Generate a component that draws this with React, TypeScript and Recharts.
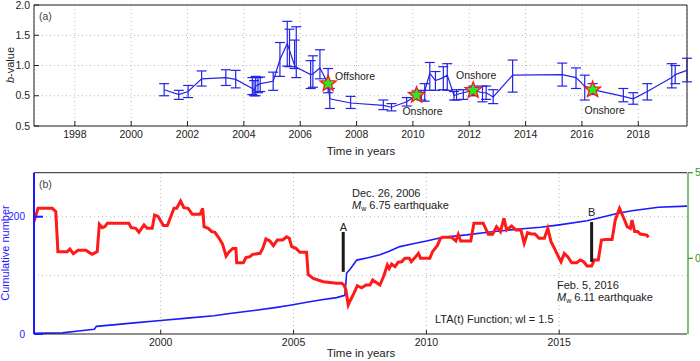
import React from "react";
import {
  ComposedChart,
  Line,
  Scatter,
  XAxis,
  YAxis,
  CartesianGrid,
  ErrorBar,
  ReferenceLine,
} from "recharts";

const FONT = '"Liberation Sans", Arial, Helvetica, sans-serif';
const INK = "#222";
const BLUE = "#2323e6";
const CUM_BLUE = "#1a1aff";
const RED = "#ff1a1a";
const GREEN = "#2e962e";
const GRID = "#b8b8b8";

// ---- panel (a): b-value with error bars ----
const B_YEARS = [
  2001.17, 2001.69, 2002.02, 2002.5, 2003.36, 2003.71, 2004.3, 2004.36, 2004.42, 2004.5,
  2004.58, 2005.04, 2005.28, 2005.54, 2005.62, 2005.8, 2005.86, 2006.37, 2006.45, 2006.7,
  2006.99, 2007.05, 2007.79, 2008.95, 2009.24, 2009.78, 2010.13, 2010.3, 2010.42, 2010.6,
  2010.8, 2011.08, 2011.22, 2011.46, 2011.55, 2011.79, 2012.14, 2012.47, 2012.6, 2012.85,
  2013.54, 2015.3, 2015.79, 2016.1, 2016.38, 2017.47, 2017.82, 2018.32, 2019.19, 2019.31,
  2019.73,
];
const B_VALUES = [
  0.6, 0.52, 0.57, 0.78, 0.8, 0.77, 0.62, 0.58, 0.66, 0.68,
  0.7, 0.74, 1.1, 1.36, 1.25, 1.0, 0.97, 0.85, 0.86, 0.96,
  0.7, 0.45, 0.38, 0.34, 0.31, 0.4, 0.51, 0.52, 0.58, 0.87,
  0.75, 0.8, 0.84, 0.5, 0.52, 0.55, 0.59, 0.55, 0.55, 0.48,
  0.84, 0.85, 0.8, 0.66, 0.6, 0.49, 0.45, 0.57, 0.8, 0.85,
  0.92,
];
const B_LOWER = [
  0.5, 0.44, 0.47, 0.66, 0.67, 0.63, 0.52, 0.5, 0.5, 0.55,
  0.57, 0.59, 0.82, 0.99, 0.98, 0.95, 0.8, 0.62, 0.64, 0.78,
  0.55, 0.29, 0.29, 0.27, 0.25, 0.33, 0.45, 0.43, 0.41, 0.59,
  0.59, 0.6, 0.59, 0.43, 0.43, 0.44, 0.5, 0.4, 0.44, 0.37,
  0.56, 0.66, 0.62, 0.43, 0.52, 0.4, 0.36, 0.43, 0.63, 0.7,
  0.73,
];
const B_UPPER = [
  0.7, 0.59, 0.67, 0.91, 0.93, 0.92, 0.8, 0.75, 0.82, 0.8,
  0.81, 0.89, 1.38, 1.73, 1.6, 1.42, 1.64, 1.08, 1.16, 1.26,
  0.95, 0.62, 0.49, 0.43, 0.37, 0.47, 0.58, 0.59, 0.7, 1.05,
  0.9, 0.98, 1.03, 0.57, 0.6, 0.6, 0.66, 0.66, 0.66, 0.6,
  1.09, 1.04, 0.96, 0.84, 0.7, 0.62, 0.55, 0.7, 1.03, 1.0,
  1.12,
];
const STAR_YEARS = [2006.99, 2010.13, 2012.14, 2016.38];
const STAR_VALUES = [0.7, 0.51, 0.59, 0.6];
const STAR_LABELS = ["Offshore", "Onshore", "Onshore", "Onshore"];
const A_TICKS = [1998, 2000, 2002, 2004, 2006, 2008, 2010, 2012, 2014, 2016, 2018];
const A_YTICKS = [0, 0.5, 1, 1.5, 2];

// ---- panel (b): cumulative number and LTA(t) ----
const CUM_YEARS = [
  1995.23, 1996.3, 1996.9, 1997.5, 1997.58, 1998.3, 1999, 2000, 2001, 2002, 2002.6, 2003.5,
  2004.3, 2004.87, 2005.5, 2006, 2006.62, 2006.93, 2006.97, 2007, 2007.12, 2007.25, 2007.38,
  2007.8, 2008.25, 2008.6, 2009, 2009.5, 2010, 2010.63, 2011.51, 2012.39, 2013.52, 2014.3,
  2015, 2016.05, 2016.6, 2017.22, 2017.74, 2018.73, 2019.81,
];
const CUM_COUNTS = [
  1, 2, 5, 8, 13, 16, 19, 23, 27, 31, 35, 40,
  45, 49, 54, 58, 62, 66, 88, 104, 110, 118, 126,
  130, 135, 141, 149, 154, 158.5, 165, 169, 174, 179, 182,
  186, 193, 199, 206, 210, 216, 218,
];
const LTA_YEARS = [
  1995.23, 1995.38, 1995.92, 1996.05, 1996.13, 1996.48, 1996.58, 1996.71, 1996.89, 1997.18,
  1997.42, 1997.61, 1997.69, 1997.8, 1997.9, 1997.99, 1998.8, 1998.89, 1999.06, 1999.18,
  1999.37, 1999.49, 1999.68, 1999.77, 1999.9, 2000.1, 2000.25, 2000.5, 2000.6, 2000.75,
  2000.87, 2001.03, 2001.19, 2001.48, 2001.58, 2001.63, 2001.79, 2001.92, 2002.04, 2002.2,
  2002.33, 2002.46, 2002.58, 2002.71, 2002.83, 2002.86, 2003.11, 2003.21, 2003.36, 2003.46,
  2003.74, 2003.84, 2003.96, 2004.11, 2004.24, 2004.39, 2004.59, 2004.74, 2004.84, 2004.93,
  2005.09, 2005.24, 2005.49, 2005.55, 2005.74, 2006.12, 2006.62, 2006.81, 2006.9, 2006.97,
  2007.06, 2007.14, 2007.27, 2007.4, 2007.56, 2007.73, 2007.88, 2007.98, 2008.1, 2008.25,
  2008.4, 2008.53, 2008.6, 2008.69, 2008.82, 2008.94, 2009.07, 2009.19, 2009.36, 2009.43,
  2009.57, 2009.7, 2009.78, 2010.13, 2010.23, 2010.41, 2010.53, 2010.61, 2010.95, 2011.11,
  2011.2, 2011.29, 2011.67, 2011.79, 2012.14, 2012.33, 2012.49, 2012.64, 2012.79, 2012.92,
  2013.02, 2013.21, 2013.37, 2013.56, 2013.68, 2013.81, 2013.94, 2014.09, 2014.24, 2014.44,
  2014.57, 2014.69, 2014.82, 2014.94, 2015.07, 2015.19, 2015.32, 2015.47, 2015.66, 2015.79,
  2015.92, 2016.05, 2016.22, 2016.32, 2016.47, 2016.59, 2016.74, 2016.99, 2017.11, 2017.27,
  2017.43, 2017.56, 2017.68, 2017.74, 2017.84, 2017.96, 2018.05, 2018.3, 2018.36,
];
const LTA_VALUES = [
  2.14, 2.92, 2.92, 2.73, 0.39, 0.39, 0.54, 0.27, 0.47, 0.47,
  0.23, 0.39, 1.99, 1.79, 1.85, 2.05, 2.05, 1.79, 1.75, 1.52,
  1.95, 1.75, 1.75, 2.53, 2.45, 1.91, 1.91, 2.92, 2.92, 3.35,
  2.96, 2.92, 2.57, 2.57, 2.92, 1.85, 1.75, 1.56, 1.52, 1.17,
  0.82, 0.13, 0.39, 0.58, 0.58, -0.26, -0.26, 0.04, 0.1, 0.23,
  0.29, 0.58, 1.13, 1.01, 0.74, 1.07, 1.07, 1.26, 1.17, 0.68,
  0.58, 0.35, 0.35, -0.94, -1.17, -1.37, -1.46, -1.46, -1.56, -1.85,
  -2.73, -2.45, -2.05, -1.6, -1.72, -1.56, -1.56, -1.27, -1.4, -1.56,
  -1.02, -0.39, -0.6, -0.33, -0.49, -0.23, -0.2, 0, 0, -0.2,
  0.04, 0.29, 0, 0, 0.39, 0.74, 1.17, 1.23, 1.23, 1.01,
  1.4, 1.01, 1.01, 2.05, 2.05, 1.4, 1.4, 1.85, 1.56, 2.34,
  1.65, 1.89, 1.65, 1.65, 0.88, 1.5, 1.42, 1.42, 1.17, 1.17,
  1.75, 0.97, 0.58, 0.19, -0.2, 0.29, 0.1, -0.26, -0.26, -0.1,
  -0.2, -0.45, -0.45, -0.1, -0.1, 1.07, 1.1, 1.1, 2.24, 2.92,
  2.34, 1.85, 1.75, 2.24, 1.56, 1.56, 1.42, 1.36, 1.23,
];
const B_TICKS = [2000, 2005, 2010, 2015];
const MARKER_LABELS = ["A", "B"];
const MARKER_YEARS = [2006.87, 2016.22];
const MARKER_FROM = [106, 123];
const MARKER_TO = [174, 191];

const bTable = B_YEARS.map((year, i) => ({
  year,
  b: B_VALUES[i],
  err: [B_VALUES[i] - B_LOWER[i], B_UPPER[i] - B_VALUES[i]],
}));
const starTable = STAR_YEARS.map((year, i) => ({ year, b: STAR_VALUES[i], label: STAR_LABELS[i] }));
const cumTable = CUM_YEARS.map((year, i) => ({ year, n: CUM_COUNTS[i] }));
const ltaTable = LTA_YEARS.map((year, i) => ({ year, v: LTA_VALUES[i] }));

// label placement for the stars: [dx, dy, anchor]
const STAR_LABEL_POS: [number, number, string][] = [
  [7, -8, "start"],
  [6, 16, "middle"],
  [3, -15, "middle"],
  [12, 20, "middle"],
];

function starPath(cx: number, cy: number, ro: number, ri: number) {
  let d = "";
  for (let i = 0; i < 10; i++) {
    const r = i % 2 === 0 ? ro : ri;
    const a = -Math.PI / 2 + (i * Math.PI) / 5;
    d += (i === 0 ? "M" : "L") + (cx + r * Math.cos(a)).toFixed(2) + "," + (cy + r * Math.sin(a)).toFixed(2);
  }
  return d + "Z";
}

function StarShape(props: any) {
  const { cx, cy, payload } = props;
  if (cx == null || cy == null) return null;
  const idx = STAR_YEARS.indexOf(payload.year);
  const [dx, dy, anchor] = STAR_LABEL_POS[idx] ?? [0, -12, "middle"];
  return (
    <g>
      <path d={starPath(cx, cy, 8.5, 3.6)} fill="#22ee22" stroke={RED} strokeWidth={1.3} />
      <text
        x={cx + dx}
        y={cy + dy}
        textAnchor={anchor as any}
        dominantBaseline="central"
        fontSize={10.5}
        fill={INK}
        fontFamily={FONT}
      >
        {payload.label}
      </text>
    </g>
  );
}

const tickStyle = { fill: INK, fontSize: 10.5, fontFamily: FONT };

function PanelA() {
  return (
    <ComposedChart width={700} height={160} data={bTable} margin={{ top: 4, right: 12, bottom: 0, left: 0 }}>
      <CartesianGrid stroke={GRID} strokeDasharray="1 3" />
      <XAxis
        dataKey="year"
        type="number"
        domain={[1996.55, 2019.73]}
        ticks={A_TICKS}
        interval={0}
        allowDataOverflow
        height={34}
        tickSize={-5}
        tickMargin={10}
        stroke={INK}
        tick={tickStyle}
      />
      <XAxis
        xAxisId="top"
        orientation="top"
        dataKey="year"
        type="number"
        domain={[1996.55, 2019.73]}
        ticks={A_TICKS}
        interval={0}
        allowDataOverflow
        height={1}
        tickSize={-5}
        tick={false}
        stroke={INK}
      />
      <YAxis
        type="number"
        domain={[0, 2]}
        ticks={A_YTICKS}
        interval={0}
        allowDataOverflow
        width={34}
        tickSize={-5}
        tickMargin={9}
        stroke={INK}
        tick={tickStyle}
        tickFormatter={(v: number) => (v === 0 ? "0.5" : v.toFixed(1))}
      />
      <YAxis
        yAxisId="right"
        orientation="right"
        type="number"
        domain={[0, 2]}
        ticks={A_YTICKS}
        interval={0}
        allowDataOverflow
        width={1}
        tickSize={-5}
        tick={false}
        stroke={INK}
      />
      <Line
        dataKey="b"
        type="linear"
        stroke={BLUE}
        strokeWidth={1.2}
        dot={false}
        isAnimationActive={false}
      >
        <ErrorBar dataKey="err" width={5} stroke={BLUE} strokeWidth={1.2} direction="y" />
      </Line>
      <Scatter data={starTable} dataKey="b" shape={<StarShape />} isAnimationActive={false} />
    </ComposedChart>
  );
}

function PanelB() {
  const dom: [number, number] = [1995.23, 2019.81];
  return (
    <ComposedChart width={700} height={201} margin={{ top: 11.7, right: 11, bottom: 0, left: 0 }}>
      <XAxis
        xAxisId="x"
        dataKey="year"
        type="number"
        domain={dom}
        ticks={B_TICKS}
        interval={0}
        allowDataOverflow
        height={27}
        tickSize={-4}
        tickMargin={9}
        stroke={INK}
        tick={tickStyle}
      />
      <XAxis
        xAxisId="top"
        orientation="top"
        dataKey="year"
        type="number"
        domain={dom}
        ticks={B_TICKS}
        interval={0}
        allowDataOverflow
        height={1}
        tickSize={-4}
        tick={false}
        stroke={INK}
      />
      <YAxis
        yAxisId="cum"
        type="number"
        domain={[0, 275]}
        ticks={[0, 200]}
        interval={0}
        allowDataOverflow
        width={34}
        tickSize={-9}
        tickMargin={18}
        stroke={CUM_BLUE}
        strokeWidth={2}
        tick={{ fill: CUM_BLUE, fontSize: 10, fontFamily: FONT }}
      />
      <YAxis
        yAxisId="lta"
        orientation="right"
        type="number"
        domain={[-4.42, 5]}
        ticks={[0, 5]}
        interval={0}
        allowDataOverflow
        width={1}
        tickSize={5}
        tickMargin={2}
        stroke={GREEN}
        strokeWidth={1.2}
        tick={{ fill: GREEN, fontSize: 10.5, fontFamily: FONT }}
      />
      <YAxis
        yAxisId="cumR"
        orientation="right"
        type="number"
        domain={[0, 275]}
        ticks={[200]}
        interval={0}
        allowDataOverflow
        width={1}
        tickSize={-10}
        tick={false}
        axisLine={false}
        stroke={CUM_BLUE}
      />
      {[100, 200].map((v) => (
        <ReferenceLine key={"h" + v} xAxisId="x" yAxisId="cum" y={v} stroke={GRID} strokeDasharray="1 3" />
      ))}
      {B_TICKS.map((v) => (
        <ReferenceLine key={"v" + v} xAxisId="x" yAxisId="cum" x={v} stroke={GRID} strokeDasharray="1 3" />
      ))}
      <Line
        data={cumTable}
        xAxisId="x"
        yAxisId="cum"
        dataKey="n"
        type="linear"
        stroke={CUM_BLUE}
        strokeWidth={1.6}
        dot={false}
        isAnimationActive={false}
      />
      <Line
        data={ltaTable}
        xAxisId="x"
        yAxisId="lta"
        dataKey="v"
        type="linear"
        stroke={RED}
        strokeWidth={3}
        dot={false}
        isAnimationActive={false}
      />
      {MARKER_YEARS.map((yr, i) => (
        <ReferenceLine
          key={MARKER_LABELS[i]}
          xAxisId="x"
          yAxisId="cum"
          segment={[
            { x: yr, y: MARKER_FROM[i] },
            { x: yr, y: MARKER_TO[i] },
          ]}
          stroke="#1a1a1a"
          strokeWidth={3}
        />
      ))}
    </ComposedChart>
  );
}

function Annotations() {
  const t = { fontFamily: FONT, fill: INK, dominantBaseline: "central" as const };
  return (
    <svg
      width={700}
      height={361}
      style={{ position: "absolute", left: 0, top: 0, pointerEvents: "none" }}
    >
      <text x={39} y={16} fontSize={10.5} {...t} fill="#444">(a)</text>
      <text x={10} y={65} fontSize={11} {...t} textAnchor="middle" transform="rotate(-90 10 65)">
        <tspan fontStyle="italic">b</tspan>-value
      </text>
      <text x={361} y={151} fontSize={11.5} {...t} textAnchor="middle">Time in years</text>

      <text x={39} y={184} fontSize={10.5} {...t} fill="#444">(b)</text>
      <text
        x={5}
        y={253}
        fontSize={11}
        {...t}
        fill={CUM_BLUE}
        textAnchor="middle"
        transform="rotate(-90 5 253)"
      >
        Cumulative number
      </text>
      <text x={361} y={353} fontSize={11.5} {...t} textAnchor="middle">Time in years</text>

      <text x={352} y={193} fontSize={11} {...t}>Dec. 26, 2006</text>
      <text x={352} y={205} fontSize={11} {...t}>
        <tspan fontStyle="italic">M</tspan>
        <tspan fontSize={7} dy={3}>w</tspan>
        <tspan dy={-3}> 6.75 earthquake</tspan>
      </text>
      <text x={343.3} y={227} fontSize={11} {...t} textAnchor="middle">{MARKER_LABELS[0]}</text>
      <text x={591.7} y={212} fontSize={11} {...t} textAnchor="middle">{MARKER_LABELS[1]}</text>

      <text x={557} y={284.5} fontSize={11} {...t}>Feb. 5, 2016</text>
      <text x={557} y={297} fontSize={11} {...t}>
        <tspan fontStyle="italic">M</tspan>
        <tspan fontSize={7} dy={3}>w</tspan>
        <tspan dy={-3}> 6.11 earthquake</tspan>
      </text>
      <text x={435} y={319} fontSize={11} {...t}>LTA(t) Function; wl = 1.5</text>
    </svg>
  );
}

export default function App() {
  return (
    <div
      style={{
        position: "absolute",
        left: 0,
        top: 0,
        width: 700,
        height: 361,
        background: "#fff",
        fontFamily: FONT,
      }}
    >
      <div style={{ position: "absolute", left: 0, top: 0 }}>
        <PanelA />
      </div>
      <div style={{ position: "absolute", left: 0, top: 160 }}>
        <PanelB />
      </div>
      <Annotations />
    </div>
  );
}
